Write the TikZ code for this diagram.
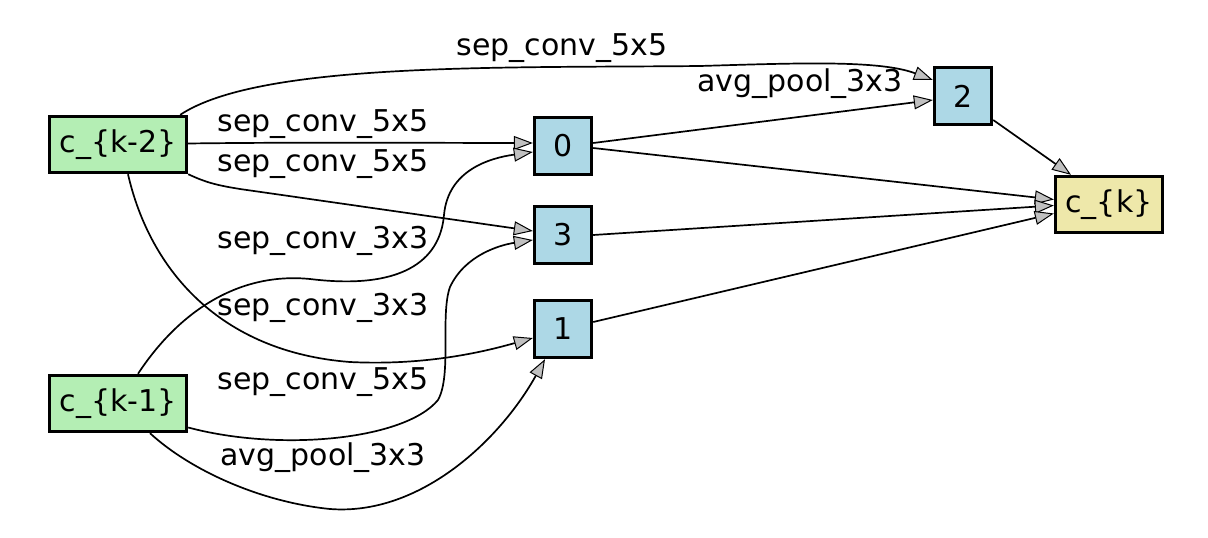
\documentclass[tikz,border=0pt]{standalone}
\usepackage{fontspec}
\setmainfont{DejaVu Sans}
\usetikzlibrary{arrows.meta}
\definecolor{inputgreen}{HTML}{B4EEB4}
\definecolor{opblue}{HTML}{ADD8E6}
\definecolor{outyellow}{HTML}{EEE8AA}
\definecolor{tipgray}{HTML}{C0C0C0}
\begin{document}
\begin{tikzpicture}[x=1pt,y=-1pt,
  box/.style={draw=black,line width=3.4pt,inner sep=0pt,
    font=\fontsize{30}{35}\selectfont},
  inbox/.style={box,fill=inputgreen,minimum width=137pt,minimum height=56pt},
  opbox/.style={box,fill=opblue,minimum width=57pt,minimum height=57pt},
  outbox/.style={box,fill=outyellow,minimum width=107pt,minimum height=56pt},
  elabel/.style={inner sep=0pt,font=\fontsize{30}{35}\selectfont},
  edge/.style={line width=1.7pt,
    -{Triangle[length=19pt,width=14pt,fill=tipgray,line width=1pt]}}
]
\useasboundingbox (0,0) rectangle (1208,538);

% cell nodes
\node[inbox]  (kk2) at (118,144.5) {c\_\{k-2\}};
\node[inbox]  (kk1) at (118,403.5) {c\_\{k-1\}};
\node[opbox]  (n0)  at (563,146)   {0};
\node[opbox]  (n3)  at (563,235)   {3};
\node[opbox]  (n1)  at (563,329)   {1};
\node[opbox]  (n2)  at (963,96)    {2};
\node[outbox] (ck)  at (1109,204.5) {c\_\{k\}};

% edge labels
\node[elabel] (l1) at (562,48)  {sep\_conv\_5x5};
\node[elabel] (l2) at (800,84)  {avg\_pool\_3x3};
\node[elabel] (l3) at (323,124) {sep\_conv\_5x5};
\node[elabel] (l4) at (323,164) {sep\_conv\_5x5};
\node[elabel] (l5) at (323,241) {sep\_conv\_3x3};
\node[elabel] (l6) at (323,308) {sep\_conv\_3x3};
\node[elabel] (l7) at (323,382) {sep\_conv\_5x5};
\node[elabel] (l8) at (323,458) {avg\_pool\_3x3};

% edges into node 2
\draw[edge] ([xshift=-8pt]kk2.north east)
  .. controls (260,62) and (500,68) .. (700,66)
  .. controls (800,63) and (880,60) .. ([yshift=16pt]n2.west);
\draw[edge] ([yshift=3pt]n0.east) -- ([yshift=-4pt]n2.west);

% edges into node 0
\draw[edge] ([yshift=1pt]kk2.east)
  .. controls (300,142) and (450,143) .. ([yshift=3pt]n0.west);
\draw[edge] ([xshift=20pt]kk1.north)
  .. controls (180,310) and (240,272) .. (310,279)
  .. controls (400,290) and (440,262) .. (444,215)
  .. controls (448,170) and (490,158) .. ([yshift=-6pt]n0.west);

% edges into node 3
\draw[edge] (kk2.south east)
  .. controls (205,182) and (215,185) .. (240,189)
  -- ([yshift=4pt]n3.west);
\draw[edge] ([yshift=-24pt]kk1.east)
  .. controls (280,452) and (405,440) .. (438,400)
  .. controls (452,375) and (440,315) .. (450,287)
  .. controls (465,255) and (500,245) .. ([yshift=-5pt]n3.west);

% edges into node 1
\draw[edge] ([xshift=10pt]kk2.south)
  .. controls (150,270) and (220,352) .. (350,362)
  .. controls (430,366) and (490,350) .. ([yshift=-9pt]n1.west);
\draw[edge] ([xshift=32pt]kk1.south)
  .. controls (190,470) and (260,502) .. (330,509)
  .. controls (420,516) and (500,440) .. ([xshift=-18pt]n1.south);

% edges into the cell output
\draw[edge] ([yshift=-2pt]n0.east) -- ([yshift=5pt]ck.west);
\draw[edge] (n3.east) -- ([yshift=-1pt]ck.west);
\draw[edge] ([yshift=7pt]n1.east) -- ([yshift=-9pt]ck.west);
\draw[edge] ([yshift=-24pt]n2.east) -- ([xshift=-38pt]ck.north);
\end{tikzpicture}
\end{document}
